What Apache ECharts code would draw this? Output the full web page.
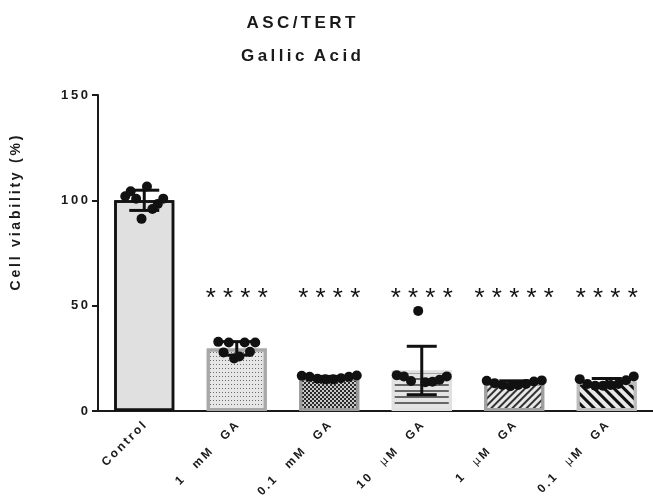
<!DOCTYPE html>
<html>
<head>
<meta charset="utf-8">
<script src="https://cdn.jsdelivr.net/npm/echarts@6/dist/echarts.min.js"></script>
<style>html,body{margin:0;padding:0;background:#fff}#c{width:653px;height:500px}</style>
</head>
<body>
<div id="c"></div>
<script>
// ---- data ----
const categories = ['Control', '1 mM GA', '0.1 mM GA', '10 µM GA', '1 µM GA', '0.1 µM GA'];
const means = [100, 29.7, 15.8, 19.2, 13.4, 13.8];
const sds = [4.8, 3.2, 0.6, 11.5, 0.9, 1.6];
const ptsControl = [101.9, 104.3, 100.7, 91.2, 106.6, 95.9, 98.3, 100.8];
const pts1mM = [32.8, 27.8, 32.5, 24.9, 25.9, 32.5, 28.1, 32.5];
const pts01mM = [16.7, 16.2, 15.3, 15.0, 15.0, 15.5, 16.2, 16.8];
const pts10uM = [17.0, 16.4, 14.2, 47.5, 13.6, 13.9, 14.8, 16.4];
const pts1uM = [14.3, 13.2, 12.3, 11.7, 12.3, 12.8, 14.0, 14.5];
const pts01uM = [15.1, 12.8, 12.0, 12.0, 12.3, 12.8, 14.6, 16.4];
const stars = ['', '****', '****', '****', '*****', '****'];
const starLevel = 53;
const yTicks = [0, 50, 100, 150];

// ---- styles ----
const points = [ptsControl, pts1mM, pts01mM, pts10uM, pts1uM, pts01uM];
const spreadPx = [38, 37, 55, 50, 55, 54];
const sp = (s, sep) => s.split('').join(sep);

const barStyles = [
  {color: '#dfe0df', borderColor: '#111', borderWidth: 2.5, decal: {symbol: 'none'}},
  {color: '#e6e6e6', borderColor: '#a8a8a8', borderWidth: 3,
   decal: {symbol: 'rect', symbolSize: 1, dashArrayX: [1, 2], dashArrayY: [1, 3], color: '#6a6a6a'}},
  {color: '#c8c8c8', borderColor: '#9a9a9a', borderWidth: 3,
   decal: {symbol: 'rect', symbolSize: 1, dashArrayX: [[1.5, 1.5], [0, 1.5, 1.5, 0]], dashArrayY: [1.5, 0], color: '#2a2a2a'}},
  {color: '#e4e4e4', borderColor: '#e0e0e0', borderWidth: 3,
   decal: {symbol: 'rect', symbolSize: 1, dashArrayX: [1, 0], dashArrayY: [1.5, 4], color: '#666'}},
  {color: '#e8e8e8', borderColor: '#a0a0a0', borderWidth: 3,
   decal: {symbol: 'rect', symbolSize: 1, dashArrayX: [1, 0], dashArrayY: [1.2, 2.2], rotation: -Math.PI / 4, color: '#333'}},
  {color: '#e8e8e8', borderColor: '#bcbcbc', borderWidth: 3,
   decal: {symbol: 'rect', symbolSize: 1, dashArrayX: [1, 0], dashArrayY: [3, 4], rotation: Math.PI / 4, color: '#111'}}
];

const chart = echarts.init(document.getElementById('c'), null, {renderer: 'canvas'});

function fmtCat(v) {
  const s = v.split(' ').map(w => sp(w, '\u2009')).join('\u2009\u2003\u2009');
  return s.split('µ').map(p => '{b|' + p + '}').join('{mu|µ}');
}

const option = {
  animation: false,
  backgroundColor: '#fff',
  aria: {enabled: true, decal: {show: true}},
  title: {
    text: sp('ASC/TERT', '\u2009') + '\n' + sp('Gallic', '\u2009') + '  ' + sp('Acid', '\u2009'),
    left: 296, top: 2, textAlign: 'center',
    textStyle: {fontFamily: 'Liberation Sans', fontSize: 17, fontWeight: 'bold', color: '#1a1a1a', lineHeight: 33}
  },
  graphic: [{
    type: 'text', x: 16, y: 213, rotation: Math.PI / 2,
    style: {text: sp('Cell viability (%)', '\u2009'), fontFamily: 'Liberation Sans', fontSize: 14, fontWeight: 'bold',
      fill: '#1a1a1a', align: 'center', verticalAlign: 'middle'}
  }],
  grid: {left: 98, right: 0, top: 95, bottom: 88, containLabel: false},
  xAxis: {
    type: 'category', data: categories,
    axisLine: {lineStyle: {color: '#1a1a1a', width: 2}},
    axisTick: {alignWithLabel: true, length: 6, lineStyle: {color: '#1a1a1a', width: 2}},
    axisLabel: {
      rotate: 45, margin: 13, interval: 0,
      formatter: fmtCat,
      rich: {
        b: {fontFamily: 'Liberation Sans', fontSize: 12, fontWeight: 'bold', color: '#1a1a1a'},
        mu: {fontFamily: 'DejaVu Sans', fontSize: 11, fontWeight: 'normal', color: '#1a1a1a'}
      }
    }
  },
  yAxis: {
    type: 'value', min: 0, max: 150, interval: 50,
    splitLine: {show: false},
    axisLine: {show: true, lineStyle: {color: '#1a1a1a', width: 2}},
    axisTick: {show: true, length: 6, lineStyle: {color: '#1a1a1a', width: 2}},
    axisLabel: {
      margin: 10, fontFamily: 'Liberation Sans', fontSize: 13, fontWeight: 'bold', color: '#1a1a1a',
      formatter: v => yTicks.indexOf(v) >= 0 ? sp(String(v), '\u2009') : ''
    }
  },
  series: [
    {
      type: 'bar', barWidth: 60, z: 2,
      data: means.map((m, i) => ({value: m, itemStyle: barStyles[i]}))
    },
    {
      type: 'custom', z: 3,
      data: means.map((m, i) => [i, m, sds[i]]),
      renderItem: function (params, api) {
        const i = api.value(0), m = api.value(1), s = api.value(2);
        const top = api.coord([i, m + s]);
        const bot = api.coord([i, m - s]);
        const half = 15;
        const st = {stroke: '#111', lineWidth: 3};
        return {
          type: 'group', children: [
            {type: 'line', shape: {x1: top[0], y1: top[1], x2: bot[0], y2: bot[1]}, style: st},
            {type: 'line', shape: {x1: top[0] - half, y1: top[1], x2: top[0] + half, y2: top[1]}, style: st},
            {type: 'line', shape: {x1: bot[0] - half, y1: bot[1], x2: bot[0] + half, y2: bot[1]}, style: st}
          ]
        };
      }
    },
    {
      type: 'custom', z: 4,
      data: points.map((p, i) => [i]),
      renderItem: function (params, api) {
        const i = api.value(0);
        const arr = points[i];
        const n = arr.length;
        const step = spreadPx[i] / (n - 1);
        const children = arr.map((v, k) => {
          const c = api.coord([i, v]);
          return {type: 'circle', shape: {cx: c[0] + (k - (n - 1) / 2) * step, cy: c[1], r: 5}, style: {fill: '#111'}};
        });
        return {type: 'group', children};
      }
    },
    {
      type: 'custom', z: 5,
      data: stars.map((s, i) => [i, starLevel]),
      renderItem: function (params, api) {
        const i = api.value(0);
        const c = api.coord([i, api.value(1)]);
        return {
          type: 'text', x: c[0], y: c[1],
          style: {text: sp(stars[i], ' '), fontFamily: 'Liberation Sans', fontSize: 26, fill: '#111',
            align: 'center', verticalAlign: 'middle'}
        };
      }
    }
  ]
};
chart.setOption(option);
</script>
</body>
</html>
